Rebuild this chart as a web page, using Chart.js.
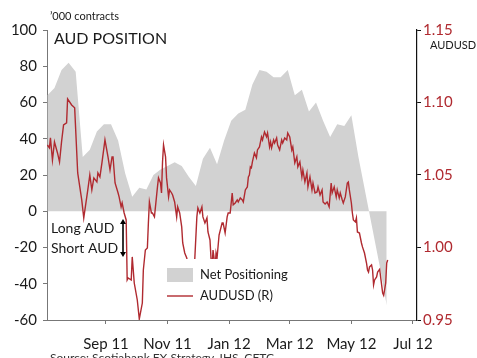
<!DOCTYPE html>
<html>
<head>
<meta charset="utf-8">
<script src="https://cdn.jsdelivr.net/npm/chart.js@4.4.1/dist/chart.umd.min.js"></script>
<style>
html,body{margin:0;padding:0;background:#fff;}
canvas{display:block;}
</style>
</head>
<body>
<canvas id="c" width="477" height="358"></canvas>
<script>
// X values are days counted from 1 Jul 2011
const tickDays = [62, 123, 184, 244, 305, 366];
const tickLabels = ['Sep 11', 'Nov 11', 'Jan 12', 'Mar 12', 'May 12', 'Jul 12'];
const leftTicks = [-60, -40, -20, 0, 20, 40, 60, 80, 100];
const rightTicks = [0.95, 1.00, 1.05, 1.10, 1.15];

// Net positioning ('000 contracts), weekly
const posDays = [4,11,18,25,32,39,46,53,60,67,74,81,88,95,102,109,116,123,130,137,144,151,158,165,172,179,186,193,200,207,214,221,228,235,242,249,256,263,270,277,284,291,298,305,312,319,326,333,340];
const posValues = [64,68,78,82,77,30,34,44,48,48,39,21,8,13,12,20,23,25,27,25,19,14,29,35,26,39,50,54,56,70,78,77,74,74,78,64,67,55,60,50,41,48,47,53,30,10,-10,-30,-52];

// AUDUSD
const audDays = [4,6,7,9,11,14,16,18,20,23,24,28,31,34,38,40,44,46,48,50,53,54,56,58,61,64,66,68,69,71,74,75,77,78,80,82,83,84,87,88,90,93,95,98,99,101,103,104,
105,107,108,110,112,113,114,116,117,118,119,121,122,124,125,127,128,130,132,133,135,137,138,140,142,145,148,150,152,153,155,157,158,160,162,163,165,166,167,168,169,170,171,172,174,177,178,180,182,183,185,187,188,190,192,193,195,197,198,200,202,203,
204,205,206,207,209,211,212,214,216,217,219,221,222,224,225,226,228,229,231,232,234,236,237,239,241,242,244,246,247,249,251,252,254,256,257,259,261,262,264,266,267,269,271,272,274,276,277,279,281,283,285,286,288,290,291,293,294,296,297,299,301,302,
303,305,306,307,309,310,311,313,315,316,318,320,321,322,323,325,326,327,328,330,331,333,335,336,337,339,340,341];
const audValues = [1.0707,1.0687,1.0756,1.0603,1.0728,1.0652,1.0590,1.0728,1.0845,1.0859,1.1025,1.0983,1.0963,1.0514,1.0328,1.0204,1.0397,1.0500,1.0397,1.0480,1.0452,1.0514,1.0487,1.0583,1.0742,1.0625,1.0535,1.0625,1.0625,1.0445,1.0376,1.0349,1.0280,1.0307,1.0238,1.0190,0.9776,0.9790,0.9776,0.9935,0.9755,0.9638,0.9507,0.9617,0.9845,0.9983,0.9997,1.0169,
1.0314,1.0238,1.0238,1.0211,1.0349,1.0418,1.0480,1.0445,1.0376,1.0590,1.0707,1.0625,1.0480,1.0349,1.0397,1.0376,1.0362,1.0314,1.0211,1.0280,1.0238,1.0142,1.0031,0.9962,0.9928,0.9780,0.9750,0.9928,1.0211,1.0273,1.0238,1.0280,1.0211,1.0169,1.0204,1.0107,1.0052,0.9928,0.9850,0.9983,0.9928,0.9850,0.9962,0.9928,1.0086,1.0169,1.0169,1.0100,1.0211,1.0238,1.0238,1.0376,1.0294,1.0307,1.0328,1.0314,1.0342,1.0328,1.0314,1.0397,1.0418,1.0487,
1.0500,1.0556,1.0549,1.0590,1.0652,1.0618,1.0673,1.0694,1.0763,1.0742,1.0797,1.0763,1.0790,1.0694,1.0728,1.0687,1.0742,1.0721,1.0756,1.0707,1.0673,1.0742,1.0721,1.0756,1.0742,1.0790,1.0763,1.0673,1.0694,1.0583,1.0625,1.0556,1.0590,1.0487,1.0535,1.0452,1.0514,1.0418,1.0487,1.0397,1.0445,1.0376,1.0383,1.0418,1.0362,1.0397,1.0314,1.0300,1.0314,1.0280,1.0445,1.0376,1.0418,1.0349,1.0397,1.0342,1.0376,1.0328,1.0307,1.0349,1.0445,1.0452,
1.0397,1.0307,1.0238,1.0190,1.0176,1.0204,1.0107,1.0100,1.0031,1.0004,0.9962,0.9893,0.9845,0.9831,0.9866,0.9880,0.9845,0.9742,0.9776,0.9797,0.9831,0.9850,0.9740,0.9686,0.9670,0.9755,0.9893,0.9914];

const RED = '#B02A30';
const GRAY = '#D2D2D2';
const FONT = 'Lato, "Open Sans", sans-serif';

const overlay = {
  id: 'overlay',
  afterDraw(chart) {
    const ctx = chart.ctx;
    ctx.save();
    ctx.fillStyle = '#1a1a1a';
    ctx.textAlign = 'left';
    ctx.textBaseline = 'alphabetic';
    ctx.font = '11px ' + FONT;
    ctx.fillText('\u2019000 contracts', 50, 20);
    ctx.font = '16px ' + FONT;
    ctx.fillText('AUD POSITION', 54, 44);
    ctx.font = '11px ' + FONT;
    ctx.fillText('AUDUSD', 430, 49);
    ctx.font = '14px ' + FONT;
    ctx.fillText('Long AUD', 51, 233);
    ctx.fillText('Short AUD', 51, 253);
    // double arrow
    ctx.strokeStyle = '#000';
    ctx.fillStyle = '#000';
    ctx.lineWidth = 1.6;
    ctx.beginPath(); ctx.moveTo(123, 223); ctx.lineTo(123, 253); ctx.stroke();
    ctx.beginPath(); ctx.moveTo(120, 224); ctx.lineTo(126, 224); ctx.lineTo(123, 219); ctx.closePath(); ctx.fill();
    ctx.beginPath(); ctx.moveTo(120, 252); ctx.lineTo(126, 252); ctx.lineTo(123, 257); ctx.closePath(); ctx.fill();
    // legend
    ctx.fillStyle = '#fff';
    ctx.fillRect(160, 259, 133, 47);
    ctx.fillStyle = GRAY;
    ctx.fillRect(167, 268, 26, 14);
    ctx.strokeStyle = RED;
    ctx.lineWidth = 1.4;
    ctx.beginPath(); ctx.moveTo(167, 296); ctx.lineTo(193, 296); ctx.stroke();
    ctx.fillStyle = '#1a1a1a';
    ctx.font = '13px ' + FONT;
    ctx.textBaseline = 'middle';
    ctx.fillText('Net Positioning', 200, 275);
    ctx.fillText('AUDUSD (R)', 200, 296);
    // source (cut off by the bottom edge, as in the original)
    ctx.font = '12px ' + FONT;
    ctx.textBaseline = 'top';
    ctx.fillStyle = '#333';
    ctx.fillText('Source: Scotiabank FX Strategy, IHS, CFTC', 50, 352);
    ctx.restore();
  }
};

const tickFont = { family: FONT, size: 15 };

new Chart(document.getElementById('c'), {
  type: 'line',
  data: {
    datasets: [
      {
        label: 'AUDUSD (R)',
        data: audDays.map((d, i) => ({ x: d, y: audValues[i] })),
        yAxisID: 'y1',
        borderColor: RED,
        borderWidth: 1.4,
        pointRadius: 0,
        tension: 0,
        fill: false
      },
      {
        label: 'Net Positioning',
        data: posDays.map((d, i) => ({ x: d, y: posValues[i] })),
        yAxisID: 'y',
        borderWidth: 0,
        borderColor: GRAY,
        backgroundColor: GRAY,
        pointRadius: 0,
        tension: 0,
        fill: 'origin'
      }
    ]
  },
  options: {
    responsive: false,
    animation: false,
    devicePixelRatio: 1,
    layout: { padding: { top: 30, left: 0, right: 0, bottom: 0 } },
    plugins: { legend: { display: false }, tooltip: { enabled: false }, title: { display: false } },
    scales: {
      x: {
        type: 'linear',
        min: 3.6,
        max: 370,
        afterBuildTicks: s => { s.ticks = tickDays.map(v => ({ value: v })); },
        afterFit: s => { s.height = 38; },
        ticks: {
          autoSkip: false, maxRotation: 0, padding: 11,
          font: tickFont, color: '#1a1a1a',
          callback: v => tickLabels[tickDays.indexOf(v)]
        },
        grid: { drawOnChartArea: false, drawTicks: true, tickLength: 4, tickColor: '#777' },
        border: { color: '#777', width: 1 }
      },
      y: {
        position: 'left',
        min: -60, max: 100,
        afterBuildTicks: s => { s.ticks = leftTicks.map(v => ({ value: v })); },
        afterFit: s => { s.width = 47; },
        ticks: { padding: 6, font: tickFont, color: '#1a1a1a', callback: v => String(v) },
        grid: { drawOnChartArea: false, drawTicks: true, tickLength: 4, tickColor: '#777' },
        border: { color: '#777', width: 1 }
      },
      y1: {
        position: 'right',
        min: 0.95, max: 1.15,
        afterBuildTicks: s => { s.ticks = rightTicks.map(v => ({ value: v })); },
        afterFit: s => { s.width = 60; },
        ticks: { padding: 2, font: tickFont, color: RED, callback: v => Number(v).toFixed(2) },
        grid: { drawOnChartArea: false, drawTicks: true, tickLength: 4, tickColor: '#111' },
        border: { color: '#111', width: 1.2 }
      }
    }
  },
  plugins: [overlay]
});
</script>
</body>
</html>
